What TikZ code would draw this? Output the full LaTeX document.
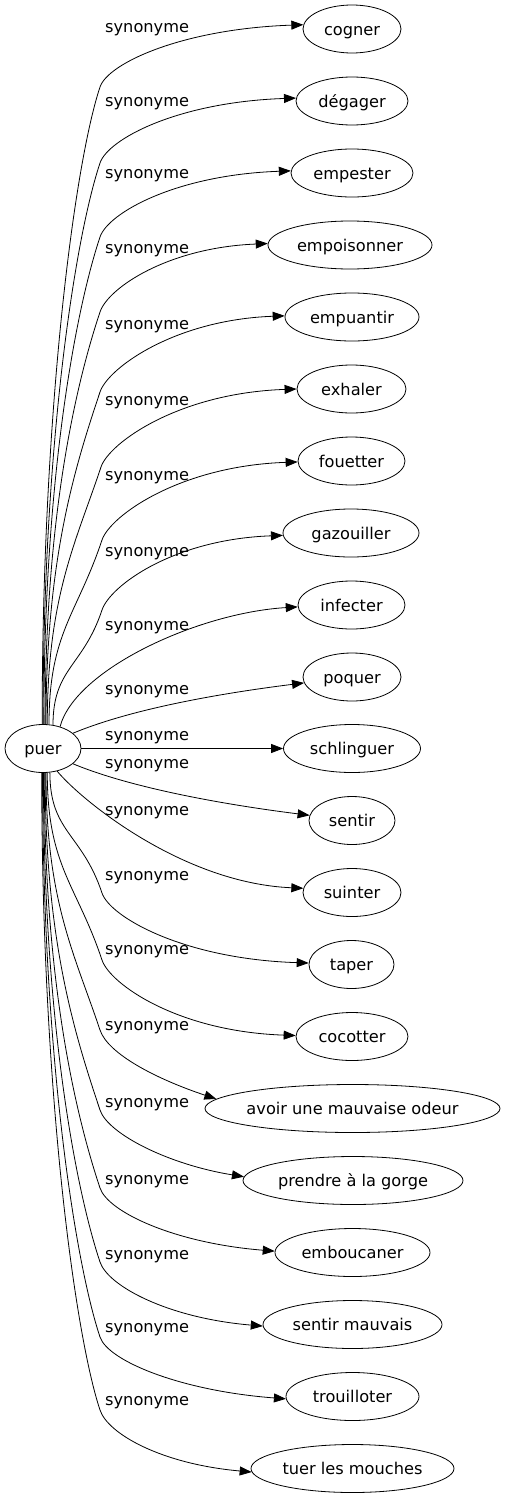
\documentclass[tikz,border=0pt]{standalone}
\usepackage{fontspec}
\setmainfont{DejaVu Sans}
\usetikzlibrary{arrows.meta, shapes.geometric}

\begin{document}
\begin{tikzpicture}[
      x = 1pt, y = -1pt, font = \fontsize{16.2}{19}\selectfont,
      word/.style = {draw, ellipse, line width = .8pt, inner xsep = -10pt,
                     inner ysep = 0pt, minimum height = 48pt,
                     text height = 12pt, text depth = 0pt},
      syn/.style  = {-{Triangle[length = 12pt, width = 9pt]}, line width = .8pt},
      rel/.style  = {anchor = base west, inner sep = 0pt}
    ]
  \useasboundingbox (0,0) rectangle (505,1499);

  % source ---------------------------------------------------------------
  \node[word, minimum width = 76pt] (puer) at (43,748.5) {puer};

  % synonyms -------------------------------------------------------------
  \node[word, minimum width = 98pt]  (cogner)      at (352,29)     {cogner};
  \node[word, minimum width = 112pt] (degager)     at (352,101)    {dégager};
  \node[word, minimum width = 122pt] (empester)    at (352,173)    {empester};
  \node[word, minimum width = 164pt] (empoisonner) at (350,245)    {empoisonner};
  \node[word, minimum width = 134pt] (empuantir)   at (352,317)    {empuantir};
  \node[word, minimum width = 109pt] (exhaler)     at (351.5,389)  {exhaler};
  \node[word, minimum width = 107pt] (fouetter)    at (351.5,461)  {fouetter};
  \node[word, minimum width = 136pt] (gazouiller)  at (351,533)    {gazouiller};
  \node[word, minimum width = 107pt] (infecter)    at (351.5,605)  {infecter};
  \node[word, minimum width = 98pt]  (poquer)      at (352,677)    {poquer};
  \node[word, minimum width = 137pt] (schlinguer)  at (352,748.5)  {schlinguer};
  \node[word, minimum width = 86pt]  (sentir)      at (352,820.5)  {sentir};
  \node[word, minimum width = 98pt]  (suinter)     at (352,892.5)  {suinter};
  \node[word, minimum width = 85pt]  (taper)       at (351.5,964.5){taper};
  \node[word, minimum width = 112pt] (cocotter)    at (352,1036.5) {cocotter};
  \node[word, minimum width = 295pt] (avoir)       at (352.5,1108.5) {avoir une mauvaise odeur};
  \node[word, minimum width = 220pt] (prendre)     at (353,1180.5) {prendre à la gorge};
  \node[word, minimum width = 155pt] (emboucaner)  at (352.5,1252.5) {emboucaner};
  \node[word, minimum width = 179pt] (mauvais)     at (352.5,1324.5) {sentir mauvais};
  \node[word, minimum width = 133pt] (trouilloter) at (352.5,1396.5) {trouilloter};
  \node[word, minimum width = 203pt] (tuer)        at (352.5,1468.5) {tuer les mouches};

  % edges above ------------------------------------------------------------
  \draw[syn] (puer.92) .. controls +(0,-318) and +(-25,75) .. (100,87)
             .. controls +(8,-24) and +(-120,4) .. (cogner.175);
  \draw[syn] (puer.90) .. controls +(0,-280) and +(-25,75) .. (100,163)
             .. controls +(8,-24) and +(-118,4) .. (degager.177);
  \draw[syn] (puer.88) .. controls +(0,-243) and +(-25,75) .. (100,237)
             .. controls +(8,-24) and +(-115,4) .. (empester.178);
  \draw[syn] (puer.85) .. controls +(0,-206) and +(-25,75) .. (100,312)
             .. controls +(8,-24) and +(-100,4) .. (empoisonner.179);
  \draw[syn] (puer.83) .. controls +(0,-166) and +(-25,75) .. (100,392)
             .. controls +(8,-24) and +(-110,4) .. (empuantir.179);
  \draw[syn] (puer.80) .. controls +(0,-128) and +(-25,75) .. (101,467)
             .. controls +(8,-24) and +(-118,4) .. (exhaler.180);
  \draw[syn] (puer.76) .. controls +(0,-92) and +(-25,75) .. (102,540)
             .. controls +(8,-24) and +(-118,4) .. (fouetter.181);
  \draw[syn] (puer.67) .. controls +(0,-57) and +(-19,57) .. (102,610)
             .. controls +(8,-24) and +(-110,4) .. (gazouiller.182);
  \draw[syn] (puer.52) .. controls +(15,-57) and +(-100,6) .. (infecter.182);
  \draw[syn] (puer.27) .. controls +(60,-25) and +(-80,10) .. (poquer.187);

  % straight -----------------------------------------------------------------
  \draw[syn] (puer.east) -- (schlinguer.west);

  % edges below --------------------------------------------------------------
  \draw[syn] (puer.333) .. controls +(60,25) and +(-80,-10) .. (sentir.173);
  \draw[syn] (puer.302) .. controls +(25,30) and +(-120,-5) .. (suinter.175);
  \draw[syn] (puer.286) .. controls +(0,60) and +(-20,-60) .. (102,893)
             .. controls +(8,24) and +(-125,-4) .. (taper.178);
  \draw[syn] (puer.280) .. controls +(0,94) and +(-25,-75) .. (102,960)
             .. controls +(8,24) and +(-118,-4) .. (cocotter.179);
  \draw[syn] (puer.277) .. controls +(0,129) and +(-25,-75) .. (100,1030)
             .. controls +(8,24) and +(-60,-20) .. (avoir.176);
  \draw[syn] (puer.275) .. controls +(0,169) and +(-25,-75) .. (100,1110)
             .. controls +(8,24) and +(-75,-12) .. (prendre.178);
  \draw[syn] (puer.273) .. controls +(0,208) and +(-25,-75) .. (100,1188)
             .. controls +(8,24) and +(-100,-8) .. (emboucaner.179);
  \draw[syn] (puer.271) .. controls +(0,245) and +(-25,-75) .. (100,1262)
             .. controls +(8,24) and +(-95,-8) .. (mauvais.181);
  \draw[syn] (puer.269) .. controls +(0,282) and +(-25,-75) .. (100,1337)
             .. controls +(8,24) and +(-105,-8) .. (trouilloter.182);
  \draw[syn] (puer.267) .. controls +(0,319) and +(-25,-75) .. (100,1410)
             .. controls +(8,24) and +(-90,-8) .. (tuer.182);

  % labels ------------------------------------------------------------------
  \node[rel] (lcogner)      at (105,32.5)   {synonyme};
  \node[rel] (ldegager)     at (105,106.5)  {synonyme};
  \node[rel] (lempester)    at (105,178.5)  {synonyme};
  \node[rel] (lempoisonner) at (105,253.5)  {synonyme};
  \node[rel] (lempuantir)   at (105,329.5)  {synonyme};
  \node[rel] (lexhaler)     at (105,405.5)  {synonyme};
  \node[rel] (lfouetter)    at (105,480.5)  {synonyme};
  \node[rel] (lgazouiller)  at (105,556.5)  {synonyme};
  \node[rel] (linfecter)    at (105,630.5)  {synonyme};
  \node[rel] (lpoquer)      at (105,694.5)  {synonyme};
  \node[rel] (lschlinguer)  at (105,740.5)  {synonyme};
  \node[rel] (lsentir)      at (105,768.5)  {synonyme};
  \node[rel] (lsuinter)     at (105,815.5)  {synonyme};
  \node[rel] (ltaper)       at (105,880.5)  {synonyme};
  \node[rel] (lcocotter)    at (105,954.5)  {synonyme};
  \node[rel] (lavoir)       at (105,1030.5) {synonyme};
  \node[rel] (lprendre)     at (105,1107.5) {synonyme};
  \node[rel] (lemboucaner)  at (105,1184.5) {synonyme};
  \node[rel] (lmauvais)     at (105,1259.5) {synonyme};
  \node[rel] (ltrouilloter) at (105,1332.5) {synonyme};
  \node[rel] (ltuer)        at (105,1405.5) {synonyme};

\end{tikzpicture}
\end{document}
